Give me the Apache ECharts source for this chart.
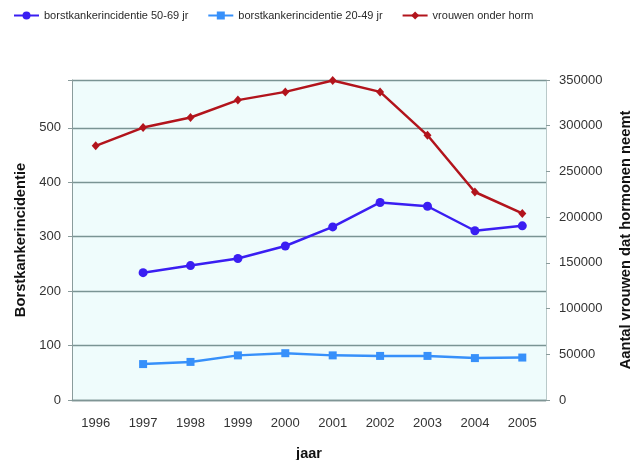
<!DOCTYPE html>
<html>
<head>
<meta charset="utf-8">
<script src="https://cdn.jsdelivr.net/npm/echarts@6/dist/echarts.min.js"></script>
<style>html,body{margin:0;padding:0;background:#fff}#c{width:637px;height:460px}</style>
</head>
<body>
<div id="c"></div>
<script>
var years = ['1996','1997','1998','1999','2000','2001','2002','2003','2004','2005'];
var inc5069 = [null, 234, 247, 260, 283, 318, 363, 356, 311, 320];
var inc2049 = [null, 66, 70, 82, 86, 82, 81, 81, 77, 78];
var hormonen = [278000, 298000, 309000, 328000, 337000, 349500, 337000, 289500, 227500, 204000];
var leftTicks = [0, 100, 200, 300, 400, 500];
var rightTicks = [0, 50000, 100000, 150000, 200000, 250000, 300000, 350000];

var FONT = '"Liberation Sans", Arial, sans-serif';
var chart = echarts.init(document.getElementById('c'), null, {renderer: 'canvas'});
chart.setOption({
  animation: false,
  textStyle: {fontFamily: FONT},
  legend: {
    left: 13, top: 10, padding: 0, itemGap: 19, itemWidth: 25, itemHeight: 10,
    textStyle: {fontFamily: FONT, fontSize: 11, color: '#2a2a2a'},
    data: ['borstkankerincidentie 50-69 jr', 'borstkankerincidentie 20-49 jr', 'vrouwen onder horm']
  },
  grid: {left: 72, right: 91, top: 80, bottom: 60, show: true, backgroundColor: '#effcfc', borderWidth: 0,
    containLabel: false, outerBoundsMode: 'none'},
  xAxis: {
    type: 'category', data: years, boundaryGap: true,
    name: 'jaar', nameLocation: 'middle', nameGap: 46,
    nameTextStyle: {fontFamily: FONT, fontSize: 14.5, fontWeight: 'bold', color: '#111'},
    axisLine: {lineStyle: {color: '#7f9595', width: 1.3}},
    axisTick: {show: false},
    axisLabel: {margin: 17, fontSize: 13, color: '#333'}
  },
  yAxis: [{
    type: 'value', min: 0, max: 588, interval: 100,
    name: 'Borstkankerincidentie', nameLocation: 'middle', nameGap: 44,
    nameTextStyle: {fontFamily: FONT, fontSize: 14.7, fontWeight: 'bold', color: '#111'},
    axisLine: {show: true, lineStyle: {color: '#8a9c9c'}},
    axisTick: {show: true, length: 4, lineStyle: {color: '#8a9c9c'}},
    axisLabel: {margin: 11, fontSize: 13, color: '#333',
      formatter: function (v) { return leftTicks.indexOf(v) >= 0 ? String(v) : ''; }},
    splitLine: {show: true, lineStyle: {color: '#7a9494', width: 1.3}}
  }, {
    type: 'value', min: 0, max: 350000, interval: 50000, position: 'right',
    name: 'Aantal vrouwen dat hormonen neemt', nameLocation: 'middle', nameGap: 72,
    nameTextStyle: {fontFamily: FONT, fontSize: 14.7, fontWeight: 'bold', color: '#111'},
    axisLine: {show: true, lineStyle: {color: '#b9c9c9'}},
    axisTick: {show: true, length: 4, lineStyle: {color: '#8a9c9c'}},
    axisLabel: {margin: 13, fontSize: 13, color: '#333',
      formatter: function (v) { return rightTicks.indexOf(v) >= 0 ? String(v) : ''; }},
    splitLine: {show: false}
  }],
  series: [{
    name: 'borstkankerincidentie 50-69 jr', type: 'line', data: inc5069,
    symbol: 'circle', symbolSize: 9,
    itemStyle: {color: '#3a1ef2'}, lineStyle: {color: '#3a1ef2', width: 2.5}
  }, {
    name: 'borstkankerincidentie 20-49 jr', type: 'line', data: inc2049,
    symbol: 'rect', symbolSize: 8,
    itemStyle: {color: '#3790fa'}, lineStyle: {color: '#3790fa', width: 2.5}
  }, {
    name: 'vrouwen onder horm', type: 'line', data: hormonen, yAxisIndex: 1,
    symbol: 'diamond', symbolSize: [8, 9],
    itemStyle: {color: '#b2141c'}, lineStyle: {color: '#b2141c', width: 2.5}
  }]
});
</script>
</body>
</html>
